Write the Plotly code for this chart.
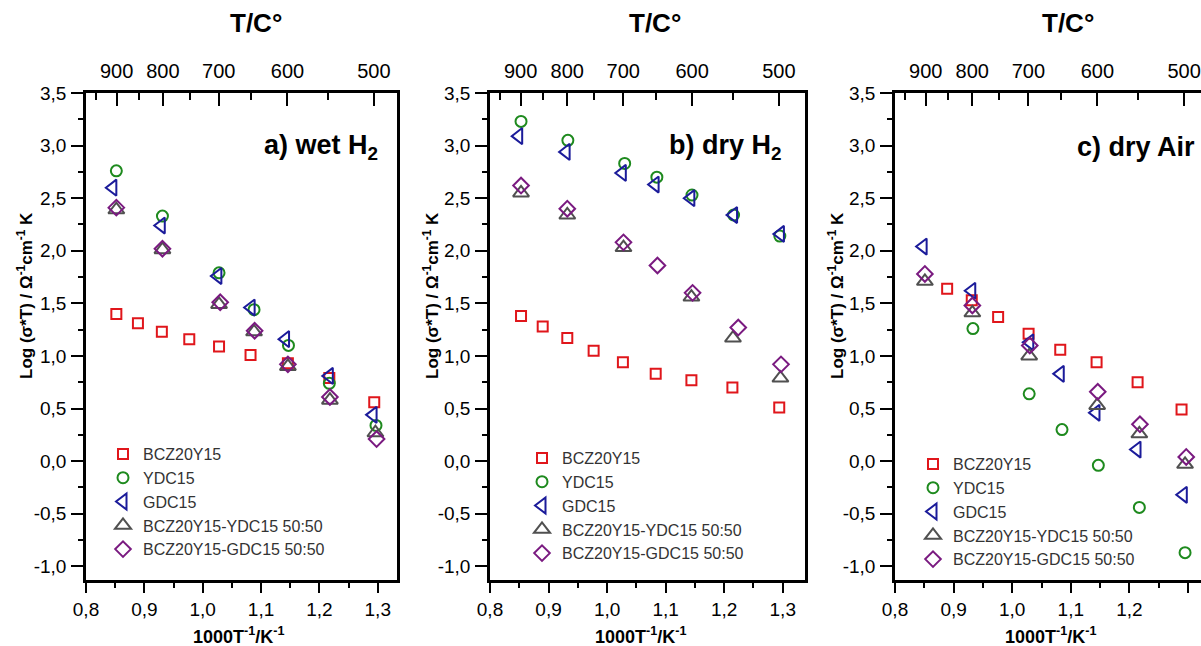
import plotly.graph_objects as go

W, H = 1201, 646
FONT = "Liberation Sans"

series_names = ["BCZ20Y15", "YDC15", "GDC15", "BCZ20Y15-YDC15 50:50", "BCZ20Y15-GDC15 50:50"]

# ---- panel a) wet H2 ----
a_bcz_x = [0.852, 0.889, 0.930, 0.977, 1.028, 1.082, 1.146, 1.217, 1.294]
a_bcz_y = [1.40, 1.31, 1.23, 1.16, 1.09, 1.01, 0.93, 0.79, 0.56]
a_ydc_x = [0.852, 0.931, 1.028, 1.088, 1.147, 1.217, 1.297]
a_ydc_y = [2.76, 2.33, 1.79, 1.44, 1.10, 0.74, 0.34]
a_gdc_x = [0.846, 0.929, 1.026, 1.083, 1.142, 1.217, 1.292]
a_gdc_y = [2.60, 2.24, 1.76, 1.46, 1.16, 0.81, 0.44]
a_byd_x = [0.852, 0.931, 1.028, 1.088, 1.146, 1.218, 1.296]
a_byd_y = [2.39, 2.01, 1.49, 1.23, 0.90, 0.58, 0.27]
a_bgd_x = [0.852, 0.931, 1.030, 1.089, 1.146, 1.218, 1.298]
a_bgd_y = [2.41, 2.02, 1.51, 1.24, 0.92, 0.61, 0.21]

# ---- panel b) dry H2 ----
b_bcz_x = [0.853, 0.890, 0.932, 0.977, 1.027, 1.083, 1.144, 1.214, 1.294]
b_bcz_y = [1.38, 1.28, 1.17, 1.05, 0.94, 0.83, 0.77, 0.70, 0.51]
b_ydc_x = [0.853, 0.933, 1.030, 1.085, 1.145, 1.216, 1.295]
b_ydc_y = [3.23, 3.05, 2.83, 2.70, 2.53, 2.34, 2.14]
b_gdc_x = [0.849, 0.930, 1.026, 1.082, 1.143, 1.216, 1.296]
b_gdc_y = [3.09, 2.94, 2.74, 2.63, 2.50, 2.34, 2.16]
b_byd_x = [0.853, 0.932, 1.028, 1.144, 1.215, 1.296]
b_byd_y = [2.55, 2.34, 2.03, 1.56, 1.17, 0.79]
b_bgd_x = [0.853, 0.932, 1.028, 1.086, 1.146, 1.224, 1.297]
b_bgd_y = [2.62, 2.40, 2.08, 1.86, 1.60, 1.27, 0.92]

# ---- panel c) dry Air ----
c_bcz_x = [0.889, 0.931, 0.976, 1.028, 1.082, 1.144, 1.214, 1.289]
c_bcz_y = [1.64, 1.53, 1.37, 1.21, 1.06, 0.94, 0.75, 0.49]
c_ydc_x = [0.933, 1.029, 1.085, 1.147, 1.217, 1.295]
c_ydc_y = [1.26, 0.64, 0.30, -0.04, -0.44, -0.87]
c_gdc_x = [0.848, 0.931, 1.030, 1.082, 1.143, 1.213, 1.292]
c_gdc_y = [2.04, 1.62, 1.13, 0.83, 0.46, 0.11, -0.32]
c_byd_x = [0.851, 0.932, 1.029, 1.145, 1.217, 1.295]
c_byd_y = [1.71, 1.41, 1.00, 0.53, 0.26, -0.03]
c_bgd_x = [0.851, 0.932, 1.030, 1.146, 1.218, 1.297]
c_bgd_y = [1.78, 1.48, 1.10, 0.66, 0.35, 0.04]

panel_titles = ["a) wet H<sub>2</sub>", "b) dry H<sub>2</sub>", "c) dry Air"]

# axis ticks
x_major = [0.8, 0.9, 1.0, 1.1, 1.2, 1.3]
x_major_text = ["0,8", "0,9", "1,0", "1,1", "1,2", "1,3"]
x_minor = [0.85, 0.95, 1.05, 1.15, 1.25]
y_major = [-1.0, -0.5, 0.0, 0.5, 1.0, 1.5, 2.0, 2.5, 3.0, 3.5]
y_major_text = ["-1,0", "-0,5", "0,0", "0,5", "1,0", "1,5", "2,0", "2,5", "3,0", "3,5"]
y_minor = [-0.75, -0.25, 0.25, 0.75, 1.25, 1.75, 2.25, 2.75, 3.25]
temp_major = [900, 800, 700, 600, 500]
temp_minor = [950, 850, 750, 650, 550]

colors = ["#E0161B", "#1E8A1E", "#1B1B9A", "#505050", "#7A1A80"]
symbols = ["square-open", "circle-open", "triangle-left-open", "triangle-up-open", "diamond-open"]
sizes = [10, 11, 14, 14, 12]

panels = [
    [(a_bcz_x, a_bcz_y), (a_ydc_x, a_ydc_y), (a_gdc_x, a_gdc_y), (a_byd_x, a_byd_y), (a_bgd_x, a_bgd_y)],
    [(b_bcz_x, b_bcz_y), (b_ydc_x, b_ydc_y), (b_gdc_x, b_gdc_y), (b_byd_x, b_byd_y), (b_bgd_x, b_bgd_y)],
    [(c_bcz_x, c_bcz_y), (c_ydc_x, c_ydc_y), (c_gdc_x, c_gdc_y), (c_byd_x, c_byd_y), (c_bgd_x, c_bgd_y)],
]

# layout geometry (pixels)
px_left = [86, 490, 895]
px_right = [397, 805, 1201]
x_ranges = [[0.8, 1.333], [0.8, 1.338], [0.8, 1.3222]]
px_top, px_bottom = 93, 580
y_range = [-1.13, 3.5]
legend_px = [(103, 437), (522, 441), (913, 447)]
xtitle_px = [238, 640, 1050]
ttitle_px = [256, 655, 1068]
ytitle_px = [25, 431, 836]
ptitle_px = [380, 784, 1197]

def px(xp):
    return xp / W

def py(yp):
    return 1 - yp / H

def to_kinv(temps):
    return [1000.0 / (t + 273.15) for t in temps]

fig = go.Figure()
layout = dict(
    width=W, height=H,
    margin=dict(l=0, r=0, t=0, b=0, autoexpand=False),
    paper_bgcolor="white", plot_bgcolor="white",
    font=dict(family=FONT, size=18, color="black"),
    showlegend=True,
    annotations=[],
)

AXW = 2.5
for p in range(3):
    n = p + 1
    xid = "x" if n == 1 else f"x{n}"
    yid = "y" if n == 1 else f"y{n}"
    xkey = "xaxis" if n == 1 else f"xaxis{n}"
    ykey = "yaxis" if n == 1 else f"yaxis{n}"
    tid = f"x{n + 3}"
    tkey = f"xaxis{n + 3}"
    legkey = "legend" if n == 1 else f"legend{n}"
    # empty helper trace so the temperature axis on top is drawn
    fig.add_trace(go.Scatter(
        x=to_kinv(temp_major), y=[None] * len(temp_major), mode="markers",
        xaxis=tid, yaxis=yid, showlegend=False, hoverinfo="skip",
    ))
    for s in range(5):
        xs, ys = panels[p][s]
        fig.add_trace(go.Scatter(
            x=xs, y=ys, mode="markers", name=series_names[s],
            xaxis=xid, yaxis=yid, legend=legkey,
            marker=dict(symbol=symbols[s], size=sizes[s], color=colors[s],
                        line=dict(width=2, color=colors[s])),
            cliponaxis=False,
        ))
    dom_x = [px(px_left[p]), px(px_right[p])]
    dom_y = [py(px_bottom), py(px_top)]
    layout[xkey] = dict(
        domain=dom_x, range=x_ranges[p], anchor=yid,
        showline=True, linecolor="black", linewidth=AXW,
        ticks="outside", ticklen=10, tickwidth=2, tickcolor="black",
        tickvals=x_major, ticktext=x_major_text,
        minor=dict(tickvals=x_minor, ticks="outside", ticklen=5, tickwidth=2, tickcolor="black"),
        showgrid=False, zeroline=False, mirror=False,
        tickfont=dict(size=19, family=FONT, color="black"),
    )
    layout[ykey] = dict(
        domain=dom_y, range=y_range, anchor=xid,
        showline=True, linecolor="black", linewidth=AXW,
        ticks="outside", ticklen=12, tickwidth=2, tickcolor="black",
        tickvals=y_major, ticktext=y_major_text,
        minor=dict(tickvals=y_minor, ticks="outside", ticklen=5, tickwidth=2, tickcolor="black"),
        showgrid=False, zeroline=False, mirror=(p < 2),
        tickfont=dict(size=19, family=FONT, color="black"),
        ticklabelstandoff=1,
    )
    layout[tkey] = dict(
        overlaying=xid, anchor=yid, side="top", range=x_ranges[p],
        showline=True, linecolor="black", linewidth=AXW,
        ticks="inside", ticklen=13, tickwidth=2, tickcolor="black",
        tickvals=to_kinv(temp_major), ticktext=[str(t) for t in temp_major],
        minor=dict(tickvals=to_kinv(temp_minor), ticks="inside", ticklen=7, tickwidth=2, tickcolor="black"),
        showgrid=False, zeroline=False,
        tickfont=dict(size=20, family=FONT, color="black"),
        ticklabelstandoff=4,
    )
    lx, ly = legend_px[p]
    layout[legkey] = dict(
        x=px(lx), y=py(ly), xanchor="left", yanchor="top",
        bgcolor="rgba(0,0,0,0)", borderwidth=0, tracegroupgap=0,
        font=dict(size=16, family=FONT, color="#333333"),
        itemsizing="trace",
    )
    layout["annotations"] += [
        dict(text="<b>1000T<sup>-1</sup>/K<sup>-1</sup></b>", x=px(xtitle_px[p]), y=py(635),
             xref="paper", yref="paper", showarrow=False, xanchor="center", yanchor="middle",
             font=dict(size=18, family=FONT, color="black")),
        dict(text="<b>T/C°</b>", x=px(ttitle_px[p]), y=py(23),
             xref="paper", yref="paper", showarrow=False, xanchor="center", yanchor="middle",
             font=dict(size=26, family=FONT, color="black")),
        dict(text="<b>Log (σ*T) / Ω<sup>-1</sup>cm<sup>-1</sup> K</b>", x=px(ytitle_px[p]), y=py(296),
             xref="paper", yref="paper", showarrow=False, xanchor="center", yanchor="middle",
             textangle=-90, font=dict(size=17, family=FONT, color="black")),
        dict(text="<b>" + panel_titles[p] + "</b>", x=px(ptitle_px[p]), y=py(147),
             xref="paper", yref="paper", showarrow=False, xanchor="right", yanchor="middle",
             font=dict(size=27, family=FONT, color="black")),
    ]

fig.update_layout(**layout)
fig.write_html("out.html", config={"displayModeBar": False},
               post_script="document.body.style.margin='0px';")
